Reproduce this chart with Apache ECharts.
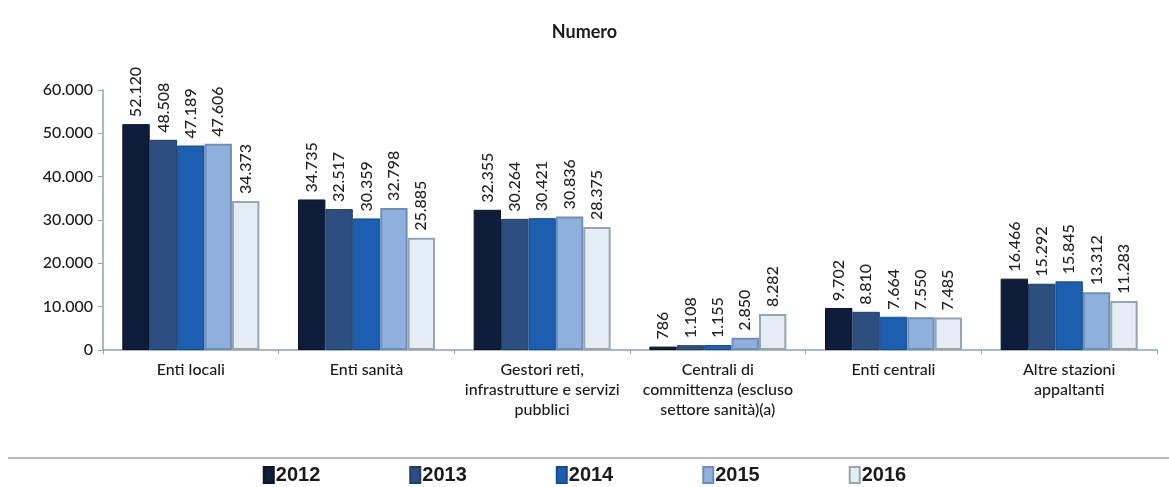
<!DOCTYPE html>
<html>
<head>
    <meta charset="utf-8">
    <title>Numero</title>
    <script src="https://cdn.jsdelivr.net/npm/echarts@6/dist/echarts.min.js"></script>
    <style>
        html, body { margin: 0; padding: 0; background: #fff; }
        #main { width: 1169px; height: 487px; }
    </style>
</head>
<body>
<div id="main"></div>
<script type="text/javascript">
    // categories and values
    var categories = ['Enti locali', 'Enti sanità', 'Gestori reti,\ninfrastrutture e servizi\npubblici',
        'Centrali di\ncommittenza (escluso\nsettore sanità)(a)', 'Enti centrali', 'Altre stazioni\nappaltanti'];
    var years = ['2012', '2013', '2014', '2015', '2016'];
    var v2012 = [52120, 34735, 32355, 786, 9702, 16466];
    var v2013 = [48508, 32517, 30264, 1108, 8810, 15292];
    var v2014 = [47189, 30359, 30421, 1155, 7664, 15845];
    var v2015 = [47606, 32798, 30836, 2850, 7550, 13312];
    var v2016 = [34373, 25885, 28375, 8282, 7485, 11283];
    var values = [v2012, v2013, v2014, v2015, v2016];
    var yTicks = [0, 10000, 20000, 30000, 40000, 50000, 60000];

    var colors = ['#101d3a', '#2c4f7f', '#1c5fb0', '#8eb0db', '#e4ecf4'];
    var borders = ['#0a1428', '#203d66', '#154a8c', '#6f8fba', '#9aa4ae'];

    function fmt(n) {
        return String(n).replace(/\B(?=(\d{3})+(?!\d))/g, '.');
    }

    var myChart = echarts.init(document.getElementById('main'));

    var series = years.map(function (y, i) {
        return {
            name: y,
            type: 'bar',
            data: values[i],
            barGap: '0%',
            barCategoryGap: '22%',
            itemStyle: {
                color: colors[i],
                borderColor: borders[i],
                borderWidth: i >= 3 ? 2 : 1
            },
            label: {
                show: true,
                position: 'top',
                rotate: 90,
                align: 'left',
                verticalAlign: 'middle',
                distance: 7,
                color: '#222',
                fontFamily: 'Lato',
                fontWeight: 500,
                fontSize: 16,
                formatter: function (p) { return fmt(p.value); }
            }
        };
    });

    var option = {
        animation: false,
        title: {
            text: 'Numero',
            left: 'center',
            top: 18,
            textStyle: { fontFamily: 'Lato', fontWeight: 'bold', fontSize: 18, color: '#1a1a1a' }
        },
        legend: {
            data: years,
            bottom: -3,
            left: 'center',
            itemWidth: 10,
            itemHeight: 16,
            itemGap: 89,
            icon: 'rect',
            textStyle: { fontFamily: 'Liberation Sans', fontWeight: 'bold', fontSize: 20, color: '#1a1a1a', padding: [0, 0, 0, -3] }
        },
        graphic: [{
            type: 'line',
            shape: { x1: 8, y1: 458, x2: 1169, y2: 458 },
            style: { stroke: '#bbbbbb', lineWidth: 2 }
        }],
        grid: {
            left: 103,
            right: 12,
            top: 90,
            bottom: 137
        },
        xAxis: {
            type: 'category',
            data: categories,
            axisLine: { lineStyle: { color: '#8aa3b8', width: 1.5 } },
            axisTick: { show: true, length: 4, lineStyle: { color: '#8aa3b8' } },
            axisLabel: {
                interval: 0,
                margin: 10,
                color: '#1a1a1a',
                fontFamily: 'Lato',
                fontWeight: 500,
                fontSize: 16,
                lineHeight: 20
            }
        },
        yAxis: {
            type: 'value',
            min: yTicks[0],
            max: yTicks[yTicks.length - 1],
            interval: 10000,
            splitLine: { show: false },
            axisLine: { show: true, lineStyle: { color: '#8aa3b8', width: 1.5 } },
            axisTick: { show: true, length: 5, lineStyle: { color: '#8aa3b8' } },
            axisLabel: {
                color: '#1a1a1a',
                fontFamily: 'Lato',
                fontWeight: 500,
                fontSize: 16,
                margin: 10,
                formatter: function (v) { return fmt(v); }
            }
        },
        series: series
    };

    myChart.setOption(option);
</script>
</body>
</html>
